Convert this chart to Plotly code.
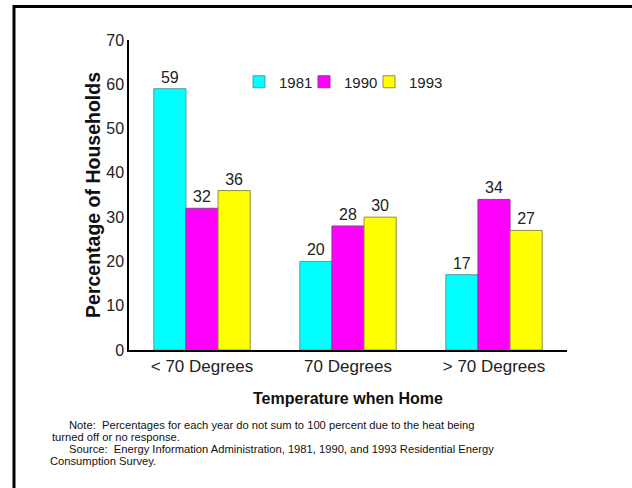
import plotly.graph_objects as go

categories = ["< 70 Degrees", "70 Degrees", "> 70 Degrees"]
years = ["1981", "1990", "1993"]
values_1981 = [59, 20, 17]
values_1990 = [32, 28, 34]
values_1993 = [36, 30, 27]
series = [values_1981, values_1990, values_1993]
fill_colors = ["#00FFFF", "#FF00FF", "#FFFF00"]
line_colors = ["#5f9a9a", "#8a3f8a", "#8f8f3f"]
y_ticks = [0, 10, 20, 30, 40, 50, 60, 70]
notes = [
    "Note:  Percentages for each year do not sum to 100 percent due to the heat being",
    "turned off or no response.",
    "Source:  Energy Information Administration, 1981, 1990, and 1993 Residential Energy",
    "Consumption Survey.",
]

FONT = "Liberation Sans, Arial, sans-serif"
W, H = 632, 488
L, R, T, B = 129, 65, 40, 138
pw, ph = W - L - R, H - T - B

def px_x(x):
    return (x - L) / pw

def px_y(y):
    return (H - B - y) / ph

legend_ids = ["legend", "legend2", "legend3"]
legend_left_px = [239, 304, 369]

fig = go.Figure()
for name, vals, fc, lc, lid in zip(years, series, fill_colors, line_colors, legend_ids):
    fig.add_trace(go.Bar(
        name=name, x=categories, y=vals, legend=lid,
        marker=dict(color=fc, line=dict(color=lc, width=1)),
        text=[str(v) for v in vals], textposition="outside",
        textfont=dict(family=FONT, size=16, color="#222"),
        cliponaxis=False,
    ))

shapes = [
    dict(type="line", xref="paper", yref="paper", x0=px_x(13), x1=px_x(640),
         y0=px_y(6.5), y1=px_y(6.5), line=dict(color="black", width=3)),
    dict(type="line", xref="paper", yref="paper", x0=px_x(14), x1=px_x(14),
         y0=px_y(5), y1=px_y(495), line=dict(color="black", width=3)),
]

note_pos = [(67, 425), (50, 437), (67, 449), (48, 461)]
annotations = []
for txt, (nx, ny) in zip(notes, note_pos):
    annotations.append(dict(text=txt, xref="paper", yref="paper", x=px_x(nx), y=px_y(ny),
                            xanchor="left", yanchor="middle", showarrow=False,
                            font=dict(family=FONT, size=11.2, color="#111")))

legend_common = dict(orientation="h", y=px_y(82), xanchor="left", yanchor="middle",
                     font=dict(family=FONT, size=15, color="#222"), itemwidth=30,
                     bgcolor="rgba(0,0,0,0)")
legends = {}
for lid, lx in zip(legend_ids, legend_left_px):
    legends[lid] = dict(legend_common, x=px_x(lx))

fig.update_layout(
    width=W, height=H,
    margin=dict(l=L, r=R, t=T, b=B, autoexpand=False),
    paper_bgcolor="white", plot_bgcolor="white",
    barmode="group", bargap=0.34, bargroupgap=0,
    font=dict(family=FONT, size=16, color="#222"),
    showlegend=True,
    xaxis=dict(showline=True, linecolor="black", linewidth=1.5, ticks="", showgrid=False,
               tickfont=dict(family=FONT, size=17, color="#222"),
               title=dict(text="<b>Temperature when Home</b>", standoff=18,
                          font=dict(family=FONT, size=16, color="#111"))),
    yaxis=dict(range=[0, 70], tickvals=y_ticks, showline=True, linecolor="black", linewidth=1.5,
               ticks="", showgrid=False, zeroline=False,
               tickfont=dict(family=FONT, size=16, color="#222"),
               title=dict(text="<b>Percentage of Households</b>", standoff=0,
                          font=dict(family=FONT, size=19.5, color="#111"))),
    shapes=shapes,
    annotations=annotations,
    **legends,
)

fig.write_html("out.html")
